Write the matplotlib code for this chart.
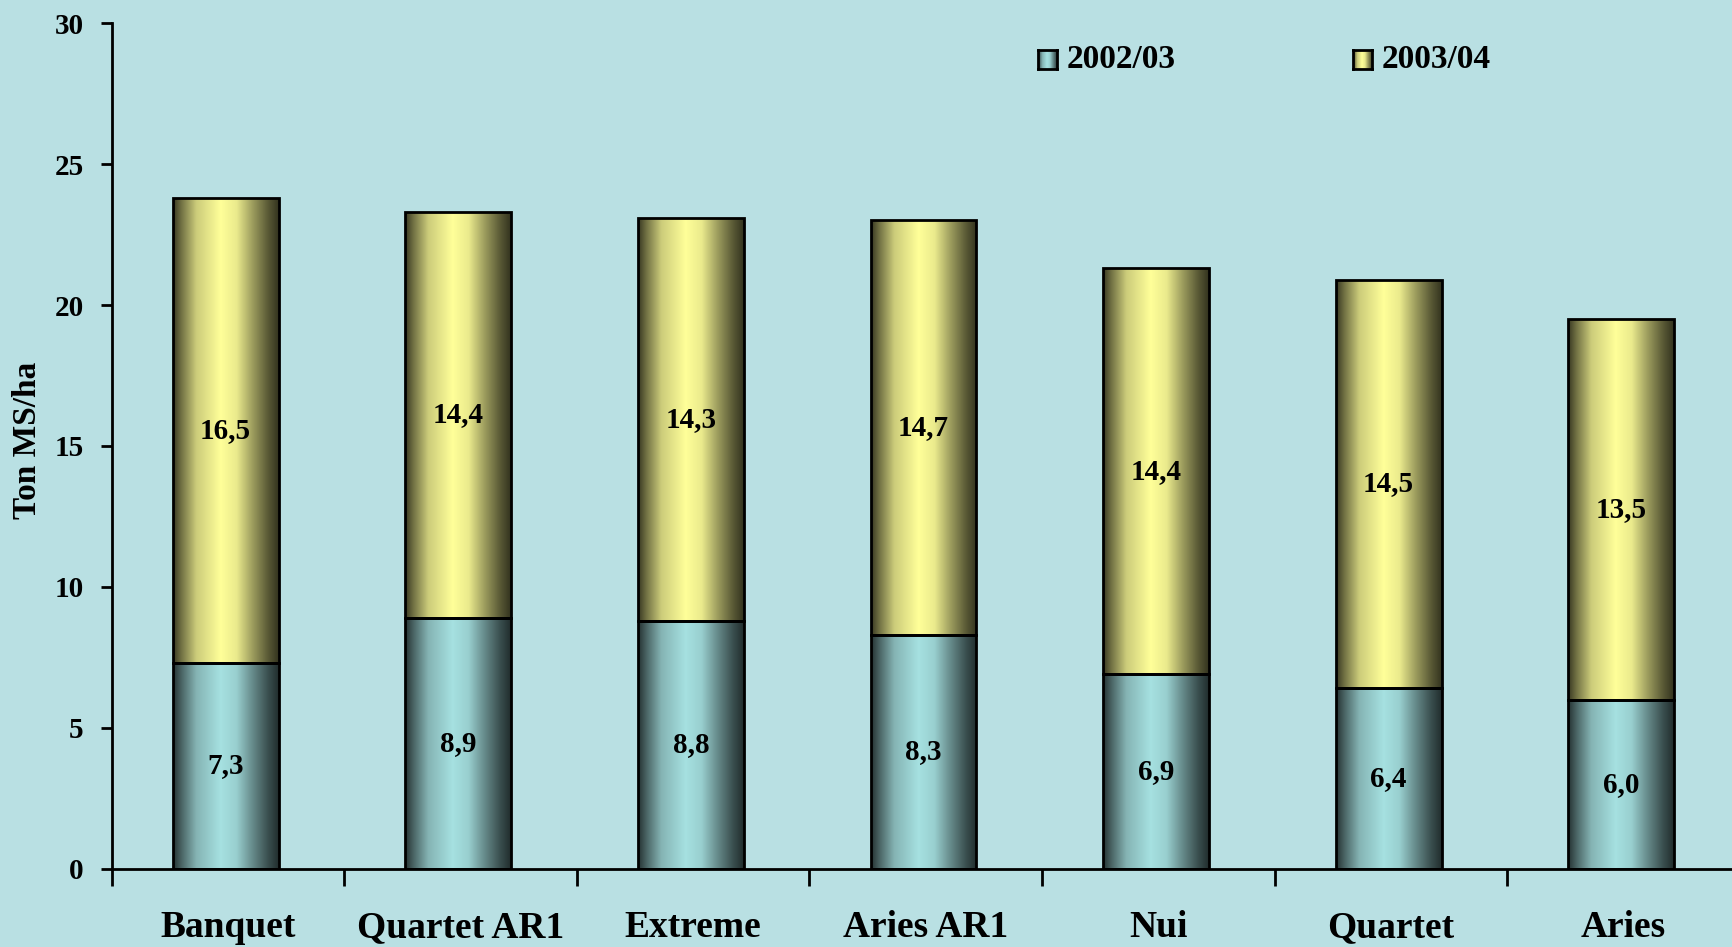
import numpy as np
import matplotlib
matplotlib.use("Agg")
import matplotlib.pyplot as plt
from matplotlib.colors import to_rgb

# data
varieties = ["Banquet", "Quartet AR1", "Extreme", "Aries AR1", "Nui", "Quartet", "Aries"]
season_0203 = [7.3, 8.9, 8.8, 8.3, 6.9, 6.4, 6.0]
season_0304 = [16.5, 14.4, 14.3, 14.7, 14.4, 14.5, 13.5]
seasons = ["2002/03", "2003/04"]

BG = "#b9e0e3"
TEAL = "#a6e1e1"
YELLOW = "#ffff99"

plt.rcParams["font.family"] = ["Liberation Serif", "DejaVu Serif"]
plt.rcParams["font.weight"] = "bold"


def shade(color, n=200):
    # cylinder-like horizontal shading: dark edges, bright just left of centre
    t = np.linspace(0, 1, n)
    f = np.interp(t, [0, 0.08, 0.22, 0.45, 0.6, 0.75, 0.9, 1.0],
                  [0.22, 0.45, 0.8, 1.0, 0.92, 0.62, 0.35, 0.2])
    rgb = np.array(to_rgb(color))
    return (f[:, None] * rgb[None, :])[None, :, :]


def fill_gradient(ax, bars, color):
    img = shade(color)
    for p in bars:
        x, y, w, h = p.get_x(), p.get_y(), p.get_width(), p.get_height()
        im = ax.imshow(img, extent=[x, x + w, y, y + h], aspect="auto",
                       interpolation="bilinear", zorder=2)
        im.set_clip_path(p)


fig = plt.figure(figsize=(17.33, 9.47), dpi=100, facecolor=BG)
ax = fig.add_axes([0.0644, 0.0827, 0.9396, 0.8928])
ax.set_facecolor(BG)

x = np.arange(len(varieties))
w = 0.455
b1 = ax.bar(x - 0.01, season_0203, w, facecolor="none", edgecolor="black", linewidth=2, zorder=3)
b2 = ax.bar(x - 0.01, season_0304, w, bottom=season_0203, facecolor="none",
            edgecolor="black", linewidth=2, zorder=3)
fill_gradient(ax, b1, TEAL)
fill_gradient(ax, b2, YELLOW)

for i in range(len(varieties)):
    lo, hi = season_0203[i], season_0304[i]
    ax.text(x[i] - 0.01, lo / 2, f"{lo:.1f}".replace(".", ","), ha="center", va="center",
            fontsize=21, fontweight="bold", zorder=4)
    ax.text(x[i] - 0.01, lo + hi / 2, f"{hi:.1f}".replace(".", ","), ha="center", va="center",
            fontsize=21, fontweight="bold", zorder=4)

ax.set_xlim(-0.5, len(varieties) - 0.5)
ax.set_ylim(0, 30)
ax.set_yticks(range(0, 31, 5))
ax.set_xticks(x)
ax.set_xticklabels(varieties, fontsize=27, fontweight="bold")
ax.set_xticks(np.arange(-0.5, len(varieties), 1.0), minor=True)
ax.tick_params(axis="x", which="major", length=0, pad=30)
ax.tick_params(axis="x", which="minor", length=12, width=2, direction="out")
ax.tick_params(axis="y", length=8, width=2, direction="out", labelsize=21, pad=12)
for lab in ax.get_yticklabels():
    lab.set_fontweight("bold")

for s in ["top", "right"]:
    ax.spines[s].set_visible(False)
ax.spines["left"].set_linewidth(2)
ax.spines["bottom"].set_linewidth(2)

ax.set_ylabel("Ton MS/ha", fontsize=24, fontweight="bold")
ax.yaxis.set_label_coords(-0.042, 0.507)

# legend drawn by hand (gradient squares)
for sx, tx, col, lab in [(0.599, 0.6157, TEAL, seasons[0]), (0.7807, 0.7975, YELLOW, seasons[1])]:
    lax = fig.add_axes([sx, 0.9273, 0.011, 0.0201])
    lax.imshow(shade(col), aspect="auto", extent=[0, 1, 0, 1])
    lax.set_xticks([])
    lax.set_yticks([])
    for sp in lax.spines.values():
        sp.set_linewidth(2)
    fig.text(tx, 0.9375, lab, fontsize=24, fontweight="bold", va="center", ha="left")

fig.savefig("out.png", dpi=100, facecolor=BG)
